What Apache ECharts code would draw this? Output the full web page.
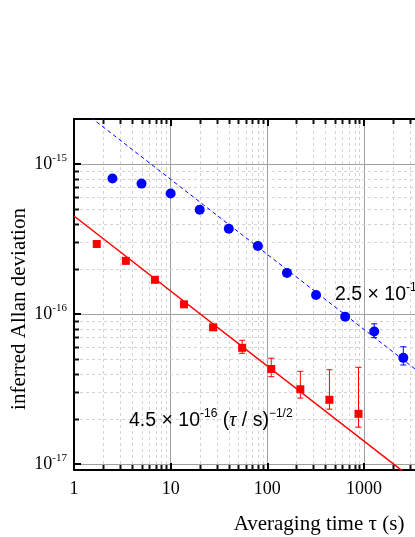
<!DOCTYPE html>
<html>
<head>
<meta charset="utf-8">
<script src="https://cdn.jsdelivr.net/npm/echarts@6/dist/echarts.min.js"></script>
<style>
html, body { margin: 0; padding: 0; background: #fff; }
#chart { width: 415px; height: 537px; }
</style>
</head>
<body>
<div id="chart"></div>
<script>
// blue circles: averaging time (s) and inferred Allan deviation
const tauBlue = [2.5, 5, 10, 20, 40, 80, 160, 320, 640, 1280, 2560];
const sigmaBlue = [8.0e-16, 7.4e-16, 6.35e-16, 4.95e-16, 3.7e-16, 2.84e-16, 1.88e-16, 1.34e-16, 9.6e-17, 7.65e-17, 5.1e-17];
const errBlueLow = [null, null, null, null, null, null, null, null, null, 6.95e-17, 4.57e-17];
const errBlueHigh = [null, null, null, null, null, null, null, null, null, 8.6e-17, 6.05e-17];

// red squares
const tauRed = [1.72, 3.44, 6.88, 13.75, 27.5, 55, 110, 220, 440, 880];
const sigmaRed = [2.93e-16, 2.26e-16, 1.69e-16, 1.16e-16, 8.15e-17, 5.95e-17, 4.3e-17, 3.15e-17, 2.68e-17, 2.16e-17];
const errRedLow = [null, null, null, null, null, 5.47e-17, 3.82e-17, 2.75e-17, 2.32e-17, 1.76e-17];
const errRedHigh = [null, null, null, null, null, 6.68e-17, 5.07e-17, 4.15e-17, 4.25e-17, 4.41e-17];

// fit lines (end points)
const fitRed = [[1, 4.5e-16], [2500, 9.0e-18]];
const fitBlue = [[1.5, 2.04e-15], [10000, 2.5e-17]];

// axis decades
const xDecades = [1, 10, 100, 1000];
const yDecades = [1e-18, 1e-17, 1e-16, 1e-15];
const minorSteps = [2, 3, 4, 5, 6, 7, 8, 9];

const xMin = 1, xMax = 10000;
const yMin = Math.pow(10, -17.04), yMax = Math.pow(10, -14.7);

const serif = '"Liberation Serif", "DejaVu Serif", serif';
const sans = '"Liberation Sans", Arial, sans-serif';

const chart = echarts.init(document.getElementById('chart'));

function pairs(xs, ys) {
    return xs.map((x, i) => [x, ys[i]]);
}

function errorBars(xs, lo, hi, color) {
    const data = [];
    xs.forEach((x, i) => { if (lo[i] != null) data.push([x, lo[i], hi[i]]); });
    return {
        type: 'custom',
        z: 3,
        silent: true,
        data: data,
        encode: { x: 0, y: [1, 2] },
        renderItem: (params, api) => {
            const a = api.coord([api.value(0), api.value(1)]);
            const b = api.coord([api.value(0), api.value(2)]);
            const w = 3;
            const st = { stroke: color, lineWidth: 1 };
            return {
                type: 'group',
                children: [
                    { type: 'line', shape: { x1: a[0], y1: a[1], x2: b[0], y2: b[1] }, style: st },
                    { type: 'line', shape: { x1: a[0] - w, y1: a[1], x2: a[0] + w, y2: a[1] }, style: st },
                    { type: 'line', shape: { x1: b[0] - w, y1: b[1], x2: b[0] + w, y2: b[1] }, style: st }
                ]
            };
        }
    };
}

const axisLineStyle = { show: true, lineStyle: { color: '#000', width: 2 } };
const majorTick = { show: true, inside: true, length: 7, lineStyle: { color: '#000', width: 2 } };

const option = {
    backgroundColor: '#fff',
    animation: false,
    grid: { left: 74, top: 119, height: 351, width: 386.5, outerBoundsMode: 'none', containLabel: false },
    xAxis: [{
        type: 'log', min: xMin, max: xMax, position: 'bottom',
        axisLine: axisLineStyle,
        axisTick: majorTick,
        axisLabel: {
            margin: 10, color: '#000', fontFamily: serif, fontSize: 18,
            formatter: v => String(Math.round(v))
        },
        splitLine: { show: true, lineStyle: { color: '#a0a0a0', width: 1 } }
    }, {
        type: 'log', min: xMin, max: xMax, position: 'top',
        axisLine: axisLineStyle,
        axisTick: majorTick,
        axisLabel: { show: false },
        splitLine: { show: false }
    }],
    yAxis: {
        type: 'log', min: yMin, max: yMax,
        axisLine: axisLineStyle,
        axisTick: majorTick,
        axisLabel: {
            margin: 7, color: '#000',
            formatter: v => {
                const l = Math.log10(v), e = Math.round(l);
                if (Math.abs(l - e) > 1e-6) return '';
                return '{b|10}{s|' + e + '}';
            },
            rich: {
                b: { fontFamily: serif, fontSize: 18, lineHeight: 22, color: '#000' },
                s: { fontFamily: serif, fontSize: 11, lineHeight: 11, verticalAlign: 'top', color: '#000' }
            }
        },
        splitLine: { show: true, lineStyle: { color: '#a0a0a0', width: 1 } }
    },
    series: [
        {
            type: 'line', data: fitRed, symbol: 'none', z: 2, silent: true,
            lineStyle: { color: '#ff0000', width: 1.5 }
        },
        {
            type: 'line', data: fitBlue, symbol: 'none', z: 2, silent: true,
            lineStyle: { color: '#0000ff', width: 1, type: [4, 3] }
        },
        errorBars(tauRed, errRedLow, errRedHigh, '#ff0000'),
        errorBars(tauBlue, errBlueLow, errBlueHigh, '#0000ff'),
        {
            type: 'scatter', data: pairs(tauRed, sigmaRed), symbol: 'rect', symbolSize: 8, z: 4,
            itemStyle: { color: '#ff0000', opacity: 1 }
        },
        {
            type: 'scatter', data: pairs(tauBlue, sigmaBlue), symbol: 'circle', symbolSize: 10, z: 4,
            itemStyle: { color: '#0000ff', opacity: 1 }
        }
    ]
};

chart.setOption(option);

// minor grid lines and minor ticks, positioned through the axes
const px = v => chart.convertToPixel({ xAxisIndex: 0 }, v);
const py = v => chart.convertToPixel({ yAxisIndex: 0 }, v);
const pLeft = px(xMin), pRight = px(xMax), pTop = py(yMax), pBottom = py(yMin);

const gfx = [];
const gridStyle = { stroke: '#d4d4d4', lineWidth: 1, lineDash: [3, 3] };
const tickStyle = { stroke: '#111', lineWidth: 2 };

xDecades.forEach(d => minorSteps.forEach(k => {
    const v = d * k;
    if (v >= xMax) return;
    const x = Math.round(px(v)) + 0.5;
    gfx.push({ type: 'line', silent: true, z: 1, shape: { x1: x, y1: pTop, x2: x, y2: pBottom }, style: gridStyle });
    gfx.push({ type: 'line', silent: true, z: 5, shape: { x1: x, y1: pBottom, x2: x, y2: pBottom - 5 }, style: tickStyle });
    gfx.push({ type: 'line', silent: true, z: 5, shape: { x1: x, y1: pTop, x2: x, y2: pTop + 5 }, style: tickStyle });
}));

yDecades.forEach(d => minorSteps.forEach(k => {
    const v = d * k;
    if (v <= yMin || v >= yMax) return;
    const y = Math.round(py(v)) + 0.5;
    gfx.push({ type: 'line', silent: true, z: 1, shape: { x1: pLeft, y1: y, x2: pRight, y2: y }, style: gridStyle });
    gfx.push({ type: 'line', silent: true, z: 5, shape: { x1: pLeft, y1: y, x2: pLeft + 5, y2: y }, style: tickStyle });
}));

const annoRich = {
    n: { fontFamily: sans, fontSize: 19.5, lineHeight: 26, color: '#000' },
    s: { fontFamily: sans, fontSize: 12, lineHeight: 12, verticalAlign: 'top', color: '#000' },
    t: { fontFamily: serif, fontStyle: 'italic', fontSize: 20, lineHeight: 26, color: '#000' }
};

gfx.push({
    type: 'text', z: 6, x: 129, y: 421,
    style: {
        text: '{n|4.5 × 10}{s|-16}{n| (}{t|τ}{n| / s)}{s|−1/2}',
        rich: annoRich, align: 'left', verticalAlign: 'middle'
    }
});
gfx.push({
    type: 'text', z: 6, x: 335, y: 295,
    style: {
        text: '{n|2.5 × 10}{s|-15}{n| (}{t|τ}{n| / s)}{s|−1/2}',
        rich: annoRich, align: 'left', verticalAlign: 'middle'
    }
});

// axis titles
gfx.push({
    type: 'text', z: 6, x: 319, y: 524,
    style: {
        text: 'Averaging time τ (s)', fill: '#000',
        font: '21px ' + serif, align: 'center', verticalAlign: 'middle'
    }
});
gfx.push({
    type: 'text', z: 6, x: 19, y: 309, rotation: Math.PI / 2,
    style: {
        text: 'inferred Allan deviation', fill: '#000',
        font: '21px ' + serif, align: 'center', verticalAlign: 'middle'
    }
});

chart.setOption({ graphic: { elements: gfx } });
</script>
</body>
</html>
